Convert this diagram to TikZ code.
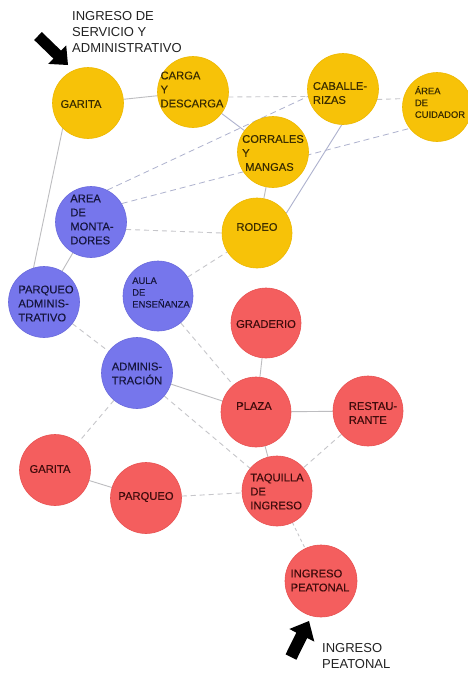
\documentclass[tikz,border=0pt]{standalone}
\usepackage{fontspec}
\setmainfont{Liberation Sans}
\newfontfamily\nodefont{Liberation Sans}[FakeBold=0.35]
\pgfdeclarelayer{bg}
\pgfdeclarelayer{paper}
\pgfsetlayers{paper,bg,main}
\definecolor{cyel}{HTML}{F7C208}
\definecolor{cyelb}{HTML}{EDB800}
\definecolor{cblu}{HTML}{7676EC}
\definecolor{cblub}{HTML}{6A6ADC}
\definecolor{cred}{HTML}{F45E5E}
\definecolor{credb}{HTML}{E85252}
\definecolor{tyel}{HTML}{3A2C00}
\definecolor{tblu}{HTML}{16163E}
\definecolor{tred}{HTML}{400C0C}
\definecolor{cline}{HTML}{BDBDC0}
\definecolor{cdash}{HTML}{C6C6CA}
\definecolor{clineb}{HTML}{AEB2CE}
\definecolor{ctxt}{HTML}{222222}
\begin{document}
\begin{tikzpicture}[x=1pt,y=-1pt,
  circ/.style={circle,inner sep=0pt,minimum size=#1},
  ycirc/.style={circ=71pt,fill=cyel,draw=cyelb,line width=0.6pt},
  bcirc/.style={circ=71pt,fill=cblu,draw=cblub,line width=0.6pt},
  rcirc/.style={circ=71pt,fill=cred,draw=credb,line width=0.6pt},
  lbl/.style={inner sep=0pt,align=left,font=\nodefont\fontsize{11.2}{14}\selectfont},
  slbl/.style={inner sep=0pt,align=left,font=\nodefont\fontsize{9.4}{11.8}\selectfont},
  ylbl/.style={lbl,text=tyel},
  blbl/.style={lbl,text=tblu},
  rlbl/.style={lbl,text=tred},
  solidl/.style={draw=cline,line width=0.9pt},
  solidb/.style={draw=clineb,line width=0.9pt},
  dashl/.style={draw=cdash,line width=0.9pt,dash pattern=on 5pt off 4pt},
  dashb/.style={draw=clineb,line width=0.8pt,dash pattern=on 6pt off 4pt},
  outtxt/.style={inner sep=0pt,align=left,text=ctxt,font=\fontsize{13}{15.7}\selectfont},
  bigarrow/.style={fill=black,draw=none}
]
\useasboundingbox (0,0) rectangle (467,675);
\begin{pgfonlayer}{paper}
\fill[white] (0,0) rectangle (467,675);
\end{pgfonlayer}

% circles
\node[ycirc] (garitay) at (88,103) {};
\node[ycirc] (carga) at (193,92) {};
\node[ycirc] (caball) at (343,89) {};
\node[ycirc,circ=69pt] (cuidador) at (437,107) {};
\node[ycirc] (corrales) at (273,152) {};
\node[ycirc,circ=70pt] (rodeo) at (257,233) {};
\node[bcirc] (montad) at (91,222) {};
\node[bcirc] (parqadm) at (44,302) {};
\node[bcirc,circ=70pt] (aula) at (158,296) {};
\node[bcirc] (admin) at (137,373) {};
\node[rcirc,circ=70pt] (graderio) at (266,323) {};
\node[rcirc,circ=70pt] (plaza) at (256,412) {};
\node[rcirc,circ=70pt] (restaur) at (368,411) {};
\node[rcirc,circ=70pt] (taquilla) at (277,491) {};
\node[rcirc] (garitar) at (55,470) {};
\node[rcirc] (parqueo) at (146,498) {};
\node[rcirc,circ=72pt] (peatonal) at (321,581) {};

% texts
\node[ylbl] (t-garitay) at (81,104) {GARITA};
\node[ylbl] (t-carga) at (192,89.5) {CARGA\\Y\\DESCARGA};
\node[ylbl] (t-caball) at (340,93) {CABALLE-\\RIZAS};
\node[slbl,text=tyel] (t-cuidador) at (440,102) {ÁREA\\DE\\CUIDADOR};
\node[ylbl] (t-corrales) at (273,153) {CORRALES\\Y\\\hspace*{3pt}MANGAS};
\node[ylbl] (t-rodeo) at (257,227) {RODEO};
\node[blbl] (t-montad) at (92,219.5) {AREA\\DE\\MONTA-\\DORES};
\node[blbl] (t-parqadm) at (46,303.5) {PARQUEO\\ADMINIS-\\TRATIVO};
\node[slbl,text=tblu] (t-aula) at (161,292.5) {AULA\\DE\\ENSEÑANZA};
\node[blbl] (t-admin) at (137,373.5) {ADMINIS-\\TRACIÓN};
\node[rlbl] (t-graderio) at (266,324) {GRADERIO};
\node[rlbl] (t-plaza) at (254,406) {PLAZA};
\node[rlbl] (t-restaur) at (373,413) {RESTAU-\\RANTE};
\node[rlbl] (t-taquilla) at (277,491.5) {TAQUILLA\\DE\\INGRESO};
\node[rlbl] (t-garitar) at (50,469) {GARITA};
\node[rlbl] (t-parqueo) at (146,497) {PARQUEO};
\node[rlbl] (t-peatonal) at (320,580.5) {INGRESO\\PEATONAL};

% outside labels
\node[outtxt,anchor=north west] (lab-top) at (72,11.5) {INGRESO DE\\SERVICIO Y\\ADMINISTRATIVO};
\node[outtxt,anchor=north west] (lab-bot) at (322,643.3) {INGRESO\\PEATONAL};

% arrows
\fill[bigarrow] (34.2,40.0) -- (41.8,32.0) -- (61.0,50.6) -- (66.2,45.3) -- (68,65) -- (48.2,63.9) -- (53.4,58.6) -- cycle;
\fill[bigarrow] (296.4,659.7) -- (285.6,654.3) -- (296.4,632.6) -- (289.3,629.0) -- (309,621) -- (314.3,641.6) -- (307.2,638.0) -- cycle;

% connectors
\begin{pgfonlayer}{bg}
\draw[solidl] (garitay) -- (carga);
\draw[dashl] (carga.352) -- (caball.192);
\draw[solidb] (carga) -- (corrales);
\draw[dashl] (caball.343) -- (cuidador.166);
\draw[solidb] (caball.268) -- (rodeo.34);
\draw[solidl] (corrales) -- (rodeo);
\draw[solidl] (garitay.225) -- (parqadm.107);
\draw[dashb] (montad.63) -- (caball.192);
\draw[dashb] (montad.31) -- (cuidador.218);
\draw[dashl] (montad.-12) -- (rodeo.180);
\draw[solidl] (montad) -- (parqadm);
\draw[dashl] (aula) -- (rodeo);
\draw[dashl] (parqadm) -- (admin);
\draw[dashl] (aula) -- (plaza);
\draw[solidl] (admin) -- (plaza);
\draw[dashl] (admin) -- (taquilla);
\draw[dashl] (admin) -- (garitar);
\draw[solidl] (graderio) -- (plaza);
\draw[solidl] (plaza) -- (restaur);
\draw[solidl] (plaza) -- (taquilla);
\draw[dashl] (restaur) -- (taquilla);
\draw[solidl] (garitar) -- (parqueo);
\draw[dashl] (parqueo) -- (taquilla);
\draw[draw=cdash,line width=0.9pt,dash pattern=on 3pt off 3pt] (taquilla) -- (peatonal);
\end{pgfonlayer}
\end{tikzpicture}
\end{document}
